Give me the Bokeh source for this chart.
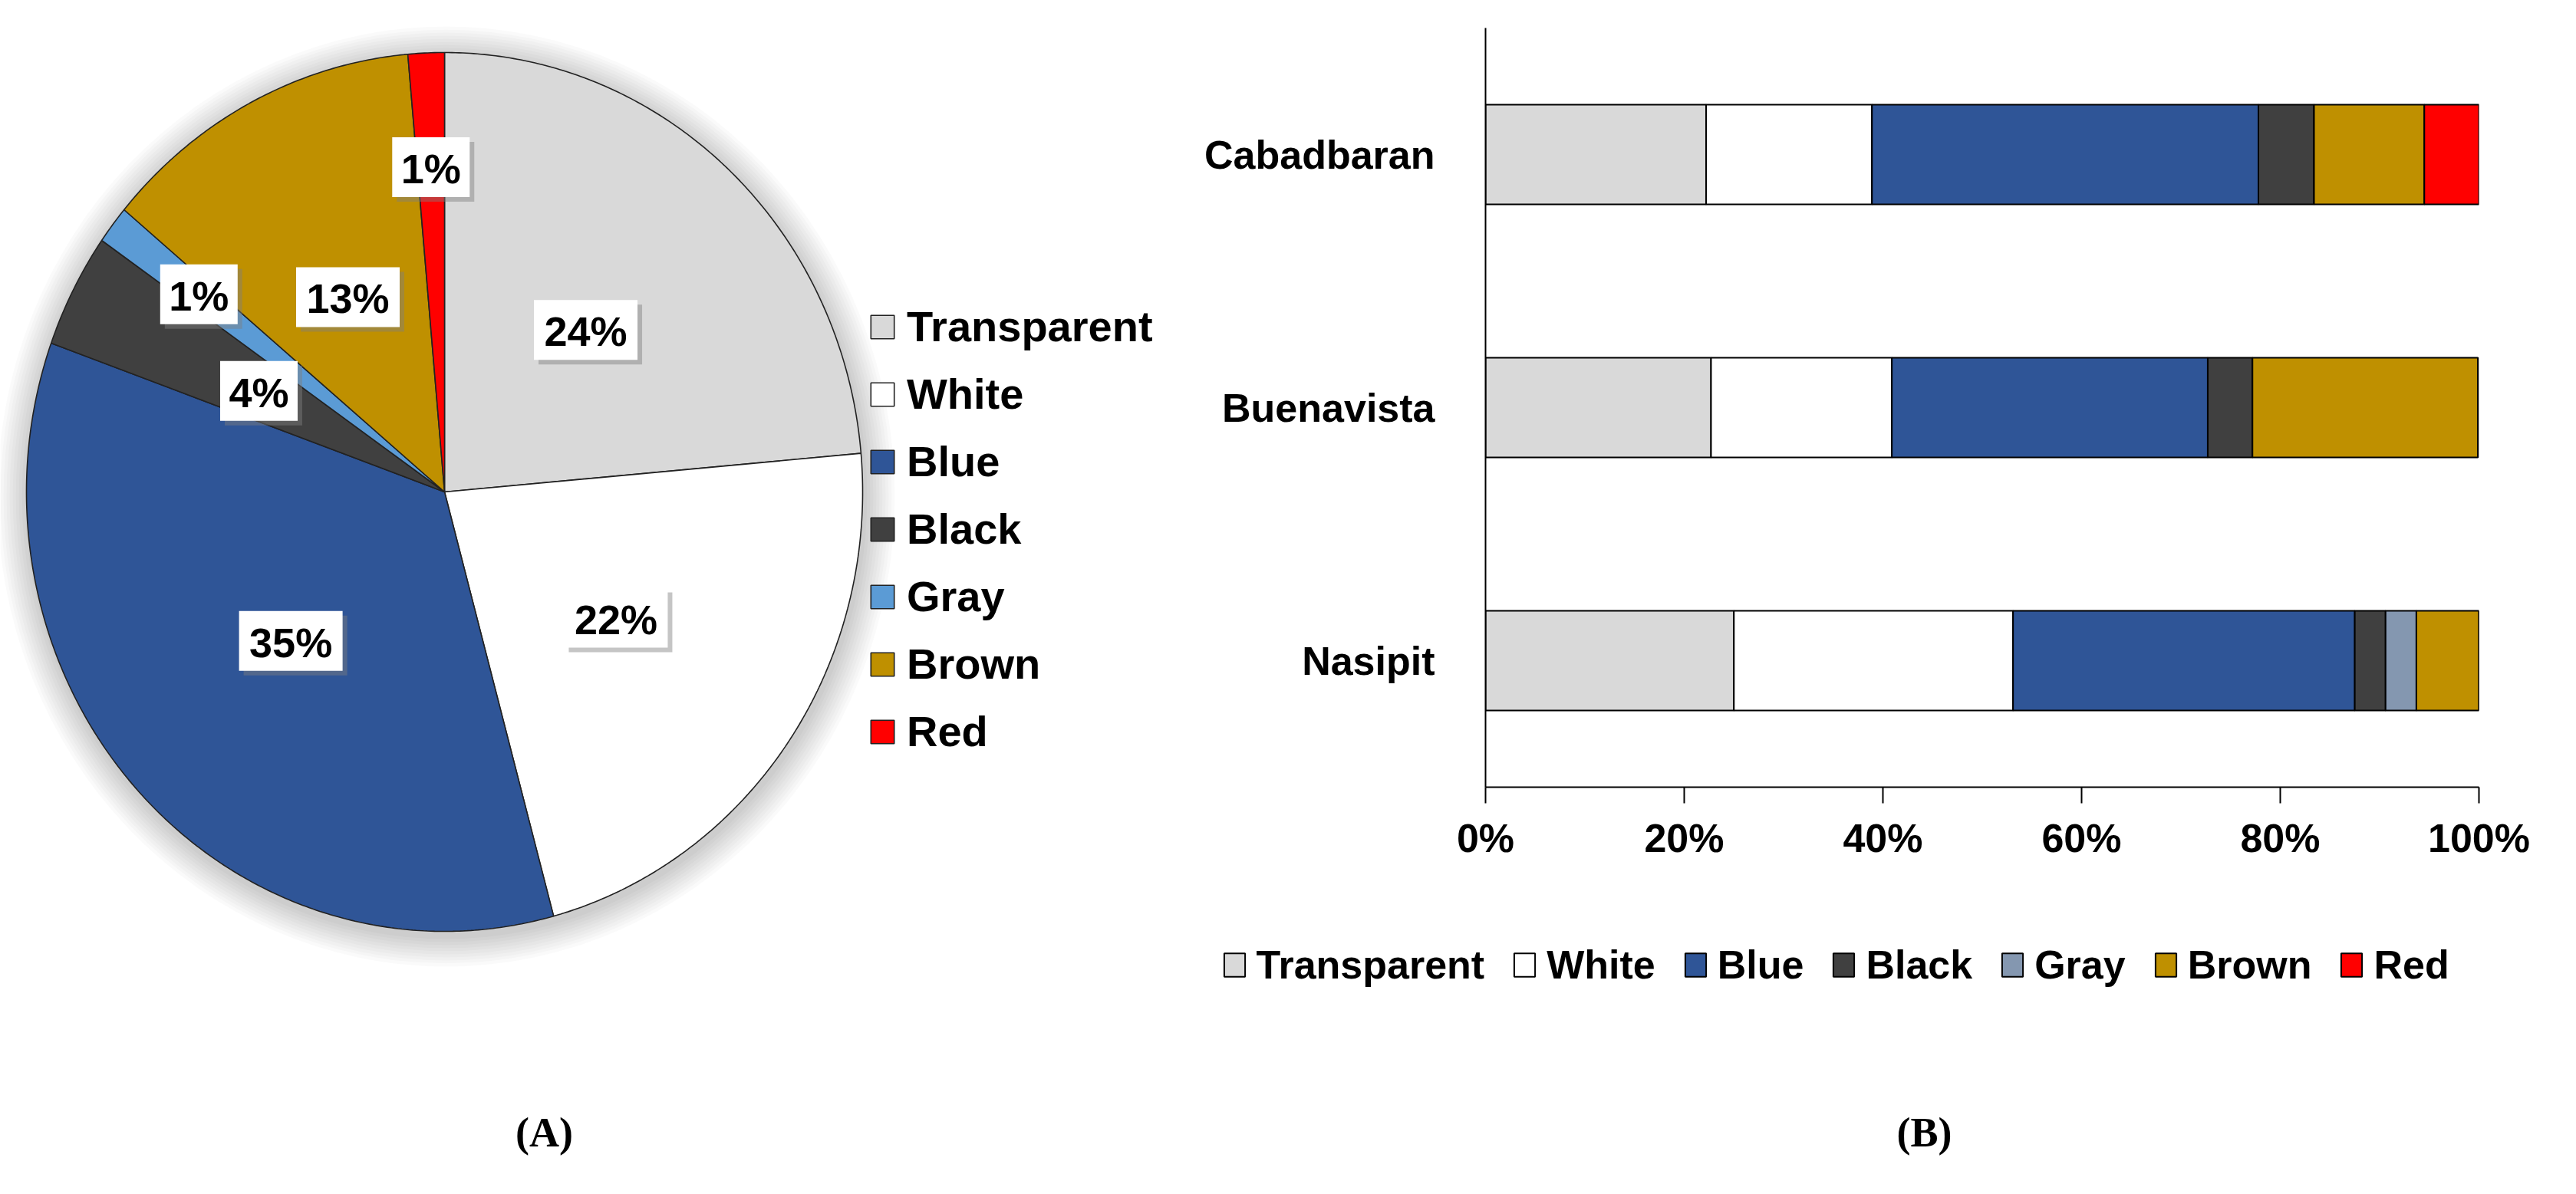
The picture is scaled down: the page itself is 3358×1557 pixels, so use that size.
import numpy as np
from bokeh.plotting import figure
from bokeh.models import (Range1d, FactorRange, Legend, LegendItem, FixedTicker,
                          PrintfTickFormatter, ColumnDataSource)
from bokeh.layouts import row, column
from bokeh.embed import file_html
from bokeh.resources import INLINE
from bokeh.core.properties import value

# ---------------- data ----------------
color_names = ["Transparent", "White", "Blue", "Black", "Gray", "Brown", "Red"]
pie_values = [23.6, 22.2, 34.7, 4.2, 1.4, 12.5, 1.4]          # % of all items
pie_colors = ["#D9D9D9", "#FFFFFF", "#2F5597", "#404040", "#5B9BD5", "#BF9000", "#FF0000"]

sites = ["Cabadbaran", "Buenavista", "Nasipit"]
transparent = [22.2, 22.7, 25.0]
white = [16.7, 18.2, 28.1]
blue = [38.9, 31.8, 34.4]
black = [5.6, 4.5, 3.1]
gray = [0.0, 0.0, 3.1]
brown = [11.1, 22.7, 6.3]
red = [5.6, 0.0, 0.0]
bar_colors = ["#D9D9D9", "#FFFFFF", "#2F5597", "#404040", "#8497B0", "#BF9000", "#FF0000"]
x_ticks = [0, 20, 40, 60, 80, 100]
captions = ["(A)", "(B)"]

FONT = "Liberation Sans"
PAGE_W, PAGE_H, M = 3342, 1541, 8


def blank_fig(x0, x1, y0, y1):
    """figure whose frame fills it; data coordinates = page pixel coordinates"""
    f = figure(width=x1 - x0, height=y1 - y0, x_range=Range1d(x0, x1), y_range=Range1d(y1, y0),
               output_backend="svg", toolbar_location=None, min_border=0,
               x_axis_location=None, y_axis_location=None, frame_align=False)
    f.grid.visible = False
    f.outline_line_color = None
    return f


# ---------------- panel A : pie ----------------
FA_R = 1548
pa = blank_fig(M, FA_R, M, M + PAGE_H)

cx, cy, rx, ry = 587, 649, 545, 573

# soft shadow around the pie
for k in range(10):
    d = 4 * (k + 1)
    pa.ellipse(x=cx + 2, y=cy + 6, width=2 * (rx + d), height=2 * (ry + d),
               fill_color="black", fill_alpha=0.018, line_color=None)

vals = np.array(pie_values, dtype=float)
fr = vals / vals.sum()
ends = np.cumsum(fr) * 2 * np.pi
starts = ends - fr * 2 * np.pi
xs, ys = [], []
for a0, a1 in zip(starts, ends):
    t = np.linspace(a0, a1, max(4, int(np.degrees(a1 - a0) * 2) + 2))
    xs.append(np.concatenate([[cx], cx + rx * np.sin(t), [cx]]).tolist())
    ys.append(np.concatenate([[cy], cy - ry * np.cos(t), [cy]]).tolist())
pie_src = ColumnDataSource(dict(xs=xs, ys=ys, color=pie_colors, name=color_names))
pr = pa.patches("xs", "ys", source=pie_src, fill_color="color", line_color="#222222", line_width=1.6)

# data labels
mids = (starts + ends) / 2
rf = np.where(vals >= 3, 0.5, 0.74)
lx = cx + rf * rx * np.sin(mids)
ly = cy - rf * ry * np.cos(mids)
texts = [f"{int(v + 0.5)}%" for v in vals]
widths = [34 * len(t) + 33 for t in texts]
pa.rect(lx + 6, ly + 6, widths, 78, fill_color="#7f7f7f", fill_alpha=0.45, line_color=None)
pa.rect(lx, ly, widths, 78, fill_color="white", line_color=None)
pa.text(lx, ly + 2, text=texts, text_font=value(FONT), text_font_style="bold",
        text_font_size="54px", text_align="center", text_baseline="middle", text_color="black")

# legend A (frame-relative, bottom-left anchored)
ITEM_H, SPACING, PAD = 64, 23, 10
leg_top = 430 - ITEM_H / 2 - PAD
leg_h = 2 * PAD + 7 * ITEM_H + 6 * SPACING
leg_a = Legend(items=[LegendItem(label=n, renderers=[pr], index=i) for i, n in enumerate(color_names)],
               location=(1139 - M, (M + PAGE_H) - (leg_top + leg_h)), orientation="vertical",
               glyph_width=38, glyph_height=38, label_standoff=13, spacing=SPACING, padding=PAD,
               label_height=ITEM_H, border_line_color=None, background_fill_alpha=0,
               label_text_font=FONT, label_text_font_style="bold", label_text_font_size="56px",
               label_text_color="black")
pa.add_layout(leg_a)

pa.text([717], [1484], text=[captions[0]], text_font=value("Liberation Serif"), text_font_style="bold",
        text_font_size="54px", text_align="center", text_baseline="middle", text_color="black")

# ---------------- panel B : stacked bars ----------------
FRAME_L, FRAME_R, FRAME_T, FRAME_B = 1944, 3239, 44, 1034
FB_BOTTOM = 1140
pb = figure(width=M + PAGE_W - FA_R, height=FB_BOTTOM - M, y_range=FactorRange(factors=sites[::-1]),
            x_range=Range1d(0, 100), output_backend="svg", toolbar_location=None, frame_align=False,
            min_border_left=FRAME_L - FA_R, min_border_right=(M + PAGE_W) - FRAME_R,
            min_border_top=FRAME_T - M, min_border_bottom=FB_BOTTOM - FRAME_B)
pb.grid.visible = False
pb.outline_line_color = None

bar_src = ColumnDataSource(dict(site=sites, Transparent=transparent, White=white, Blue=blue,
                                Black=black, Gray=gray, Brown=brown, Red=red))
rs = pb.hbar_stack(color_names, y="site", height=130 / 330, fill_color=bar_colors,
                   line_color="black", line_width=2, source=bar_src)

pb.xaxis.ticker = FixedTicker(ticks=x_ticks)
pb.xaxis.formatter = PrintfTickFormatter(format="%d%%")
pb.xaxis.major_tick_out = 21
pb.xaxis.major_tick_in = 0
pb.xaxis.minor_tick_out = 0
pb.xaxis.minor_tick_in = 0
pb.xaxis.major_tick_line_width = 2
pb.xaxis.axis_line_width = 2
pb.xaxis.major_label_standoff = 16
pb.xaxis.major_label_text_font_size = "52px"
pb.yaxis.major_tick_out = 0
pb.yaxis.major_tick_in = 0
pb.yaxis.axis_line_width = 2
pb.yaxis.major_label_standoff = 66
pb.yaxis.major_label_text_font_size = "52px"
for ax in (pb.xaxis, pb.yaxis):
    ax.major_label_text_font = FONT
    ax.major_label_text_font_style = "bold"
    ax.major_label_text_color = "black"
    ax.axis_line_color = "black"
    ax.major_tick_line_color = "black"

# ---------------- panel B : legend + caption strip ----------------
pl = blank_fig(FA_R, M + PAGE_W, FB_BOTTOM, M + PAGE_H)
leg_src = ColumnDataSource(dict(x=[np.nan], y=[np.nan]))
swatches = [pl.rect(x="x", y="y", width=1, height=1, source=leg_src, fill_color=c,
                    line_color="black", line_width=2) for c in bar_colors]
IH_B = 58
leg_b = Legend(items=[LegendItem(label=n, renderers=[r], index=0) for n, r in zip(color_names, swatches)],
               orientation="horizontal",
               location=(1609.5 - 10 - FA_R, (M + PAGE_H) - (1257 + IH_B / 2 + 10)),
               glyph_width=34, glyph_height=38, label_standoff=12, spacing=35, padding=10,
               label_height=IH_B, border_line_color=None, background_fill_alpha=0,
               label_text_font=FONT, label_text_font_style="bold", label_text_font_size="52px",
               label_text_color="black")
pl.add_layout(leg_b)
pl.text([2516], [1484], text=[captions[1]], text_font=value("Liberation Serif"), text_font_style="bold",
        text_font_size="54px", text_align="center", text_baseline="middle", text_color="black")

layout = row(pa, column(pb, pl, spacing=0), spacing=0)
open("out.html", "w").write(file_html(layout, INLINE))
